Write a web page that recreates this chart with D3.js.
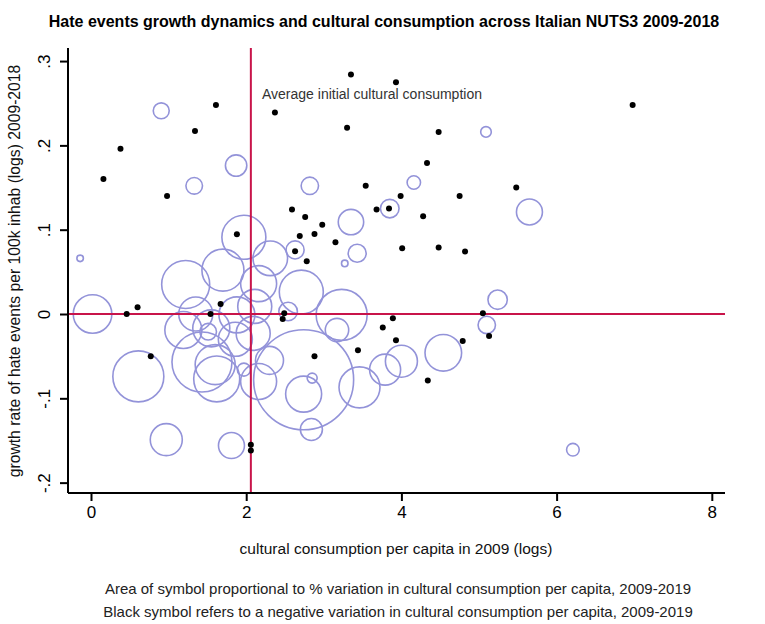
<!DOCTYPE html>
<html><head><meta charset="utf-8">
<script src="https://cdn.jsdelivr.net/npm/d3@7"></script>
<style>body{margin:0;background:#fff}svg{display:block}text{font-family:"Liberation Sans",Arial,Helvetica,sans-serif}</style>
</head><body>
<script>
// positive variation: hollow circles (x = log consumption 2009, y = hate growth, v = % variation)
const posX = [0.905,1.33,1.87,2.82,3.35,3.43,3.27,3.85,2.63,1.97,-0.14,5.09,4.16,5.65,
  2.31,1.70,1.22,2.71,2.16,2.11,2.54,3.23,3.17,1.19,1.55,1.51,1.43,1.60,1.62,1.97,1.88,2.09,2.30,2.16,
  2.74,2.74,2.85,3.46,2.84,1.81,3.79,4.00,4.54,5.24,5.10,6.21,0.02,0.61,0.97,1.35,1.86];
const posY = [0.241,0.152,0.176,0.152,0.109,0.072,0.060,0.125,0.076,0.091,0.066,0.216,0.156,0.121,
  0.066,0.052,0.035,0.026,0.036,0.009,0.003,-0.001,-0.019,-0.019,-0.017,-0.021,-0.057,-0.060,-0.077,-0.066,-0.001,-0.023,-0.055,-0.080,
  -0.078,-0.095,-0.076,-0.087,-0.137,-0.156,-0.066,-0.056,-0.046,0.017,-0.013,-0.161,0.000,-0.074,-0.149,0.000,-0.030];
const posVar = [10.2,11,18.3,12.1,25.8,13,1.7,13.8,13,77.4,1.7,4.5,7.2,27,
  47.9,70.6,92.2,77.4,51.8,46.2,13.8,104,21.9,54.8,54.8,11,144,64,84.6,6.8,51.8,46.2,31.4,51.8,
  400,51.8,4,67.2,19.4,27,38.4,41,53.6,15,12.1,6.4,59.6,104,41,46.2,46.2];
// negative variation: black dots
const negX = [3.35,3.93,1.61,2.37,6.98,1.34,3.30,4.48,0.38,4.33,0.16,3.54,5.48,0.98,3.99,4.75,2.59,3.68,3.84,2.76,4.28,2.98,1.88,2.69,2.88,3.15,4.01,4.48,4.82,2.63,2.78,
  1.67,1.54,2.49,2.47,0.46,0.60,0.77,5.05,5.13,4.79,3.89,3.76,3.93,3.44,4.34,2.88,2.06,2.06];
const negY = [0.284,0.275,0.248,0.239,0.248,0.217,0.221,0.216,0.196,0.179,0.160,0.152,0.150,0.140,0.140,0.140,0.124,0.124,0.125,0.115,0.116,0.106,0.0945,0.0925,0.095,0.085,0.078,0.079,0.074,0.0744,0.0625,
  0.012,0.0,0.001,-0.006,0.0,0.008,-0.050,0.001,-0.026,-0.032,-0.005,-0.016,-0.031,-0.043,-0.079,-0.050,-0.155,-0.162];
const avgX = 2.06;
const xTicks = [0,2,4,6,8];
const yTicks = [-0.2,-0.1,0,0.1,0.2,0.3];
const yTickLabels = ["-.2","-.1","0",".1",".2",".3"];
const title = "Hate events growth dynamics and cultural consumption across Italian NUTS3 2009-2018";
const xTitle = "cultural consumption per capita in 2009 (logs)";
const yTitle = "growth rate of hate events per 100k inhab (logs) 2009-2018";
const notes = ["Area of symbol proportional to % variation in cultural consumption per capita, 2009-2019",
  "Black symbol refers to a negative variation in cultural consumption per capita, 2009-2019"];
const annot = "Average initial cultural consumption";

const W = 765, H = 624;
const L = 68, R = 725, T = 48, B = 493;
const svg = d3.select("body").append("svg").attr("width", W).attr("height", H);
const x = d3.scaleLinear().domain([-0.2964, 8.170]).range([L, R]);
const y = d3.scaleLinear().domain([-0.2123, 0.3155]).range([B, T]);
const rS = d3.scaleSqrt().domain([0, 400]).range([0, 50]);

const purple = "#9393d9", red = "#c8144a";

// circles
svg.append("g").selectAll("circle").data(posX.map((d,i)=>({x:d,y:posY[i],v:posVar[i]})))
  .join("circle").attr("cx", d=>x(d.x)).attr("cy", d=>y(d.y)).attr("r", d=>rS(d.v))
  .attr("fill","none").attr("stroke",purple).attr("stroke-width",1.6);

// reference lines
svg.append("line").attr("x1",L).attr("x2",R).attr("y1",y(0)).attr("y2",y(0)).attr("stroke",red).attr("stroke-width",2);
svg.append("line").attr("x1",x(avgX)).attr("x2",x(avgX)).attr("y1",T).attr("y2",B).attr("stroke",red).attr("stroke-width",2);

// dots
svg.append("g").selectAll("circle").data(negX.map((d,i)=>({x:d,y:negY[i]})))
  .join("circle").attr("cx", d=>x(d.x)).attr("cy", d=>y(d.y)).attr("r",3).attr("fill","#000");

// axes
const yAxis = svg.append("g").attr("transform",`translate(${L},0)`)
  .call(d3.axisLeft(y).tickValues(yTicks).tickSize(8).tickFormat((d,i)=>yTickLabels[i]));
yAxis.select(".domain").attr("d",`M0,${T}V${B}`).attr("stroke-width",2);
yAxis.selectAll(".tick line").attr("stroke-width",2);
yAxis.selectAll(".tick text").attr("font-size",17).attr("fill","#000").attr("text-anchor","middle")
  .attr("transform","translate(-24,0) rotate(-90)").attr("x",0).attr("y",0).attr("dy","0.35em");

const xAxis = svg.append("g").attr("transform",`translate(0,${B})`)
  .call(d3.axisBottom(x).tickValues(xTicks).tickSize(8).tickFormat(d3.format("d")));
xAxis.select(".domain").attr("d",`M${L},0H${R}`).attr("stroke-width",2);
xAxis.selectAll(".tick line").attr("stroke-width",2);
xAxis.selectAll(".tick text").attr("font-size",17).attr("fill","#000").attr("y",13).attr("dy","0.71em");

// texts
svg.append("text").attr("x",384).attr("y",27).attr("text-anchor","middle").attr("font-size",16).attr("font-weight","bold").text(title);
svg.append("text").attr("x",396).attr("y",554).attr("text-anchor","middle").attr("font-size",15.5).attr("fill","#111").text(xTitle);
svg.append("text").attr("transform","translate(20,271) rotate(-90)").attr("text-anchor","middle").attr("font-size",15.7).attr("fill","#111").text(yTitle);
notes.forEach((t,i)=>svg.append("text").attr("x",398).attr("y",594+i*23).attr("text-anchor","middle").attr("font-size",15).attr("fill","#222").text(t));
svg.append("text").attr("x",262).attr("y",99).attr("font-size",14).attr("fill","#333").text(annot);
</script>
</body></html>
